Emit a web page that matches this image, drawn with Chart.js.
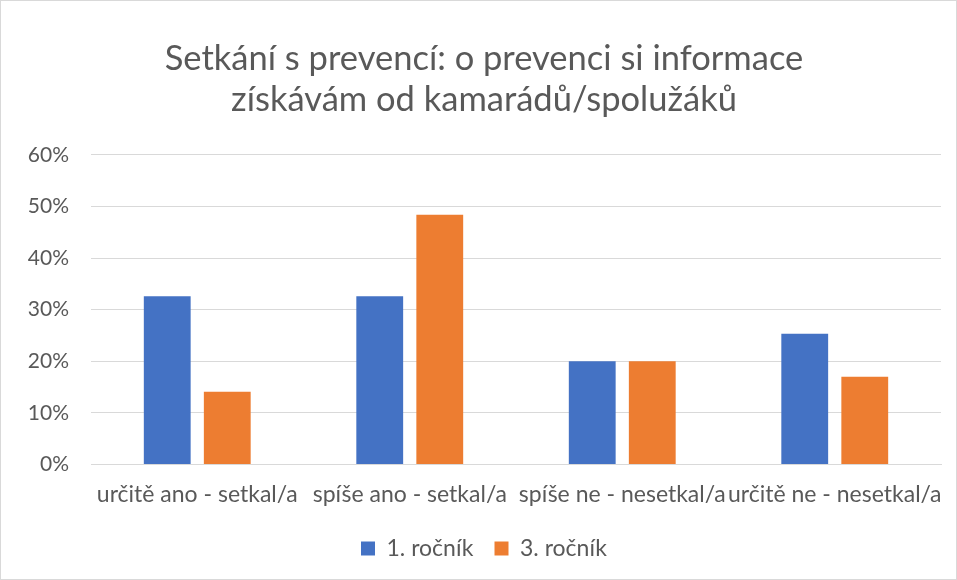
<!DOCTYPE html>
<html>
<head>
<meta charset="utf-8">
<script src="https://cdn.jsdelivr.net/npm/chart.js@4"></script>
<style>
body{margin:0;background:#fff;}
#wrap{position:absolute;left:0;top:0;width:955px;height:578px;border:1px solid #d9d9d9;}
</style>
</head>
<body>
<div id="wrap"><canvas id="bargraph" width="955" height="578"></canvas></div>
<script>
var categories=["určitě ano - setkal/a","spíše ano - setkal/a","spíše ne - nesetkal/a","určitě ne - nesetkal/a"];
var rocnik1=[32.6,32.6,20.0,25.3];
var rocnik3=[14.1,48.4,20.0,17.0];
var seriesNames=["1. ročník","3. ročník"];

var ctx=document.getElementById("bargraph");
var chart=new Chart(ctx,{
    type:'bar',
    data:{
        labels:categories,
        datasets:[{
            label:seriesNames[0],
            backgroundColor:"#4472C4",
            data:rocnik1
        },{
            label:seriesNames[1],
            backgroundColor:"#ED7D31",
            data:rocnik3
        }]
    },
    options:{
        responsive:false,
        animation:false,
        categoryPercentage:0.565,
        barPercentage:0.78,
        layout:{padding:{left:26,right:15,top:37,bottom:9}},
        plugins:{
            title:{
                display:true,
                text:["Setkání s prevencí: o prevenci si informace","získávám od kamarádů/spolužáků"],
                color:"#595959",
                font:{family:"Lato",size:34.5,weight:'normal'},
                lineHeight:1.22,
                padding:{top:0,bottom:34}
            },
            legend:{
                position:'bottom',
                labels:{color:"#595959",font:{family:"Lato",size:23},boxWidth:14,boxHeight:14,padding:21}
            },
            tooltip:{enabled:false}
        },
        scales:{
            x:{
                grid:{display:false},
                border:{color:"#d9d9d9",width:1},
                ticks:{color:"#595959",font:{family:"Lato",size:23},maxRotation:0,autoSkip:false,padding:8}
            },
            y:{
                min:0,max:60,
                afterFit:function(s){s.width=64;},
                grid:{color:"#d9d9d9",drawTicks:false},
                border:{display:false},
                ticks:{stepSize:10,color:"#595959",font:{family:"Lato",size:21},padding:22,
                    callback:function(v){return v+"%";}}
            }
        }
    }
});
</script>
</body>
</html>
